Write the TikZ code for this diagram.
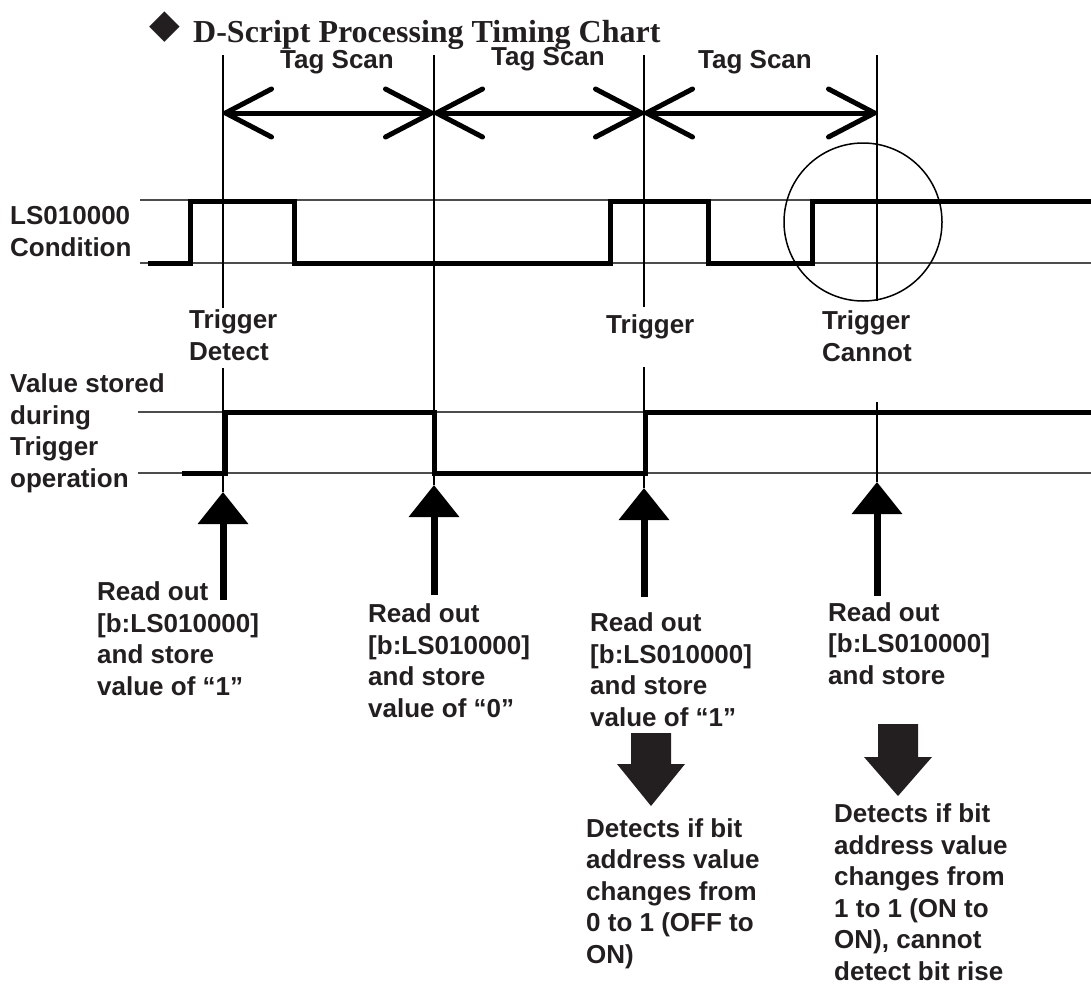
\documentclass[tikz,border=0pt]{standalone}
\usepackage{fontspec}
\setmainfont{Liberation Sans}
\newfontfamily\titlefont{Liberation Serif}
\newfontfamily\symfont{DejaVu Sans}
\usetikzlibrary{arrows.meta}
\definecolor{tcInk}{HTML}{231F20}
% block arrow pointing down: centre x, stem top, shoulder, tip
\newcommand{\tcdown}[4]{%
  \fill[tcInk] (#1-20,#2) -- (#1+20,#2) -- (#1+20,#3) -- (#1+34,#3) -- (#1,#4)
    -- (#1-34,#3) -- (#1-20,#3) -- cycle;}

\begin{document}
\begin{tikzpicture}[x=1pt, y=-1pt,
  lbl/.style={font=\fontsize{26}{31.5}\selectfont\bfseries, text=tcInk, inner sep=0pt, align=left},
  grid/.style={line width=1.3pt, black!70},
  tick/.style={line width=1.5pt, black},
  sig/.style={line width=5pt, black, line join=miter},
  scan/.style={{Straight Barb[length=46pt,width=48pt,round]}-{Straight Barb[length=46pt,width=48pt,round]}, line width=5pt},
  readarr/.style={-{Triangle[length=32pt,width=49pt]}, line width=7pt}]
\useasboundingbox (0,0) rectangle (1091,985);

% title
\node[font=\symfont\fontsize{40}{40}\selectfont, text=tcInk, inner sep=0pt] (dia) at (165,27) {◆};
\node[font=\titlefont\fontsize{32}{38}\selectfont\bfseries, text=tcInk, inner sep=0pt, anchor=base west] (title) at (193,42) {D-Script Processing Timing Chart};

% scan ticks
\coordinate (t1) at (223,113);
\coordinate (t2) at (434,113);
\coordinate (t3) at (644,113);
\coordinate (t4) at (877,113);
\draw[scan] (t1) -- (t2);
\draw[scan] (t2) -- (t3);
\draw[scan] (t3) -- (t4);
\node[lbl, anchor=base] (scan1) at (337,68) {Tag Scan};
\node[lbl, anchor=base] (scan2) at (548,65) {Tag Scan};
\node[lbl, anchor=base] (scan3) at (755,68) {Tag Scan};

% reference levels
\draw[grid] (140,200) -- (1091,200);
\draw[grid] (140,263) -- (1091,263);
\draw[grid] (138,412) -- (1091,412);
\draw[grid] (138,473) -- (1091,473);

% read-out points
\coordinate (p1) at (223,492);
\coordinate (p2) at (434,485);
\coordinate (p3) at (644,488);
\coordinate (p4) at (877,482);
\coordinate (b1) at (223,600);
\coordinate (b2) at (434,595);
\coordinate (b3) at (644,597);
\coordinate (b4) at (877,596);

% vertical markers
\draw[tick] (t1 |- 0,55) -- (223,308) (223,368) -- (p1);
\draw[tick] (t2 |- 0,55) -- (p2);
\draw[tick] (t3 |- 0,55) -- (644,307) (644,367) -- (p3);
\draw[tick] (t4 |- 0,55) -- (877,301) (877,402) -- (p4);

% signals
\draw[sig] (148,263) -- (190,263) -- (190,201) -- (294,201) -- (294,263) -- (610,263)
  -- (610,201) -- (708,201) -- (708,263) -- (812,263) -- (812,201) -- (1091,201);
\draw[sig] (182,473) -- (225,473) -- (225,412) -- (434,412) -- (434,473) -- (645,473)
  -- (645,412) -- (1091,412);
\draw[line width=1.5pt] (863,222) circle[radius=79];

% row labels (anchored on the last line)
\node[lbl, anchor=base west] (cond) at (10,256) {LS010000\\Condition};
\node[lbl, anchor=base west] (val) at (10,487) {Value stored\\during\\Trigger\\operation};
\node[lbl, anchor=base west] (trg1) at (189,360) {Trigger\\Detect};
\node[lbl, anchor=base west] (trg2) at (606,333) {Trigger};
\node[lbl, anchor=base west] (trg3) at (822,361) {Trigger\\Cannot};

% read-out arrows
\foreach \i in {1,2,3,4}{\draw[readarr] (b\i) -- (p\i);}
\node[lbl, anchor=base west] (rd1) at (97,695) {Read out\\{[b:LS010000]}\\and store\\value of “1”};
\node[lbl, anchor=base west] (rd2) at (368,717) {Read out\\{[b:LS010000]}\\and store\\value of “0”};
\node[lbl, anchor=base west] (rd3) at (590,726) {Read out\\{[b:LS010000]}\\and store\\value of “1”};
\node[lbl, anchor=base west] (rd4) at (828,684) {Read out\\{[b:LS010000]}\\and store};

% results
\tcdown{651}{733}{764}{806}
\tcdown{898}{724}{757}{796}
\node[lbl, anchor=base west] (det1) at (586,963) {Detects if bit\\address value\\changes from\\0 to 1 (OFF to\\ON)};
\node[lbl, anchor=base west] (det2) at (834,980) {Detects if bit\\address value\\changes from\\1 to 1 (ON to\\ON), cannot\\detect bit rise};
\end{tikzpicture}
\end{document}
